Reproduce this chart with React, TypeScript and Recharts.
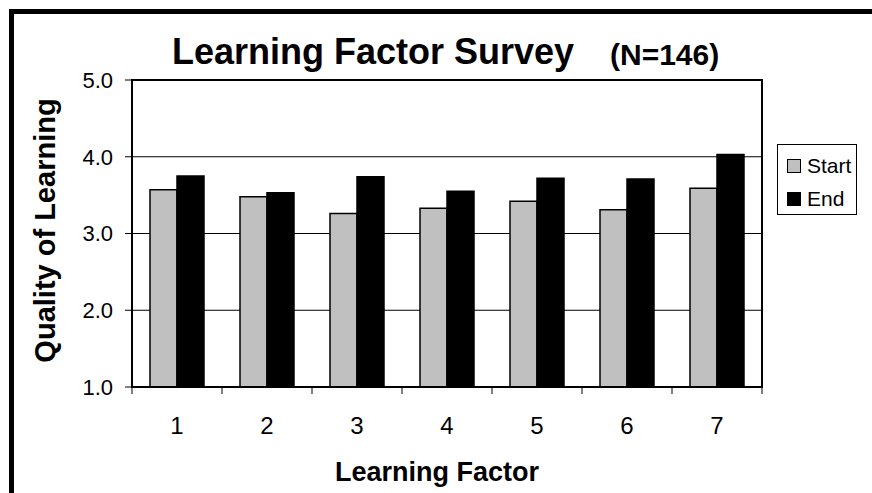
import { BarChart, Bar, XAxis, YAxis, CartesianGrid, Legend, ReferenceArea, Label } from 'recharts';

const categories = ['1', '2', '3', '4', '5', '6', '7'];
const seriesNames = ['Start', 'End'];
const startValues = [3.57, 3.48, 3.26, 3.33, 3.42, 3.31, 3.59];
const endValues = [3.75, 3.53, 3.74, 3.55, 3.72, 3.71, 4.03];
const yTicks = [1, 2, 3, 4, 5];

const data = categories.map((factor, i) => ({
  factor,
  Start: startValues[i],
  End: endValues[i],
}));

const FONT = '"Liberation Sans", Arial, sans-serif';

function XTick(props: any) {
  const { x, y, payload, index, visibleTicksCount } = props;
  const half = payload?.offset ?? 45;
  const last = index === (visibleTicksCount ?? categories.length) - 1;
  return (
    <g>
      <line x1={x - half} x2={x - half} y1={y} y2={y + 7} stroke="#000" strokeWidth={1} />
      {last && <line x1={x + half} x2={x + half} y1={y} y2={y + 7} stroke="#000" strokeWidth={1} />}
      <text x={x} y={y + 47} textAnchor="middle" fontSize={24} fill="#000">
        {payload.value}
      </text>
    </g>
  );
}

function renderLegend(props: any) {
  const payload = [...(props.payload || [])].sort(
    (a: any, b: any) => seriesNames.indexOf(a.value) - seriesNames.indexOf(b.value)
  );
  return (
    <div
      style={{
        border: '1px solid #000',
        background: '#fff',
        width: 80,
        height: 71,
        paddingTop: 4,
        boxSizing: 'border-box',
        fontFamily: FONT,
      }}
    >
      {payload.map((entry: any) => (
        <div key={entry.value} style={{ display: 'flex', alignItems: 'center', height: 33, paddingLeft: 9 }}>
          <span
            style={{
              display: 'inline-block',
              width: 14,
              height: 14,
              boxSizing: 'border-box',
              border: '1.5px solid #000',
              background: entry.color,
              marginRight: 6,
            }}
          />
          <span style={{ fontSize: 21, color: '#000', lineHeight: 1 }}>{entry.value}</span>
        </div>
      ))}
    </div>
  );
}

export default function App() {
  return (
    <div
      style={{
        position: 'absolute',
        left: 0,
        top: 0,
        width: 872,
        height: 493,
        overflow: 'hidden',
        background: '#fff',
        fontFamily: FONT,
      }}
    >
      {/* outer frame, only left + top edges show */}
      <div
        style={{
          position: 'absolute',
          left: 9,
          top: 9,
          right: -10,
          bottom: -10,
          borderLeft: '5px solid #000',
          borderTop: '5px solid #000',
        }}
      />
      <div style={{ position: 'absolute', left: 0, top: 0 }}>
        <BarChart
          width={872}
          height={493}
          data={data}
          margin={{ top: 80, right: 110, bottom: 46, left: 72 }}
          barCategoryGap="20%"
          barGap={0}
        >
          <CartesianGrid vertical={false} stroke="#000" strokeWidth={1} />
          <XAxis
            dataKey="factor"
            height={60}
            axisLine={{ stroke: '#000', strokeWidth: 2 }}
            tickLine={false}
            tickSize={0}
            tickMargin={0}
            tick={<XTick />}
            interval={0}
          >
            <Label
              content={(p: any) => {
                const vb = p.viewBox || { x: 132, width: 630, y: 387 };
                return (
                  <text
                    x={vb.x + vb.width / 2 - 10}
                    y={481}
                    textAnchor="middle"
                    fontSize={27}
                    fontWeight="bold"
                    fill="#000"
                  >
                    Learning Factor
                  </text>
                );
              }}
            />
          </XAxis>
          <YAxis
            width={60}
            domain={[1, 5]}
            ticks={yTicks}
            interval={0}
            tickFormatter={(v: number) => v.toFixed(1)}
            axisLine={{ stroke: '#000', strokeWidth: 2 }}
            tickLine={{ stroke: '#000' }}
            tickSize={7}
            tickMargin={12}
            tick={{ fontSize: 22, fill: '#000' }}
          >
            <Label
              content={(p: any) => {
                const vb = p.viewBox || { y: 80, height: 307 };
                const cy = vb.y + vb.height / 2 - 3;
                return (
                  <text
                    x={0}
                    y={0}
                    transform={`translate(55, ${cy}) rotate(-90)`}
                    textAnchor="middle"
                    fontSize={29}
                    fontWeight="bold"
                    fill="#000"
                  >
                    Quality of Learning
                  </text>
                );
              }}
            />
          </YAxis>
          <ReferenceArea
            x1={categories[0]}
            x2={categories[categories.length - 1]}
            y1={1}
            y2={5}
            fill="none"
            stroke="#000"
            strokeWidth={2}
          />
          <Legend
            layout="vertical"
            align="center"
            verticalAlign="middle"
            wrapperStyle={{ left: 777, top: 144, width: 82, height: 73 }}
            content={renderLegend}
          />
          <Bar dataKey="Start" fill="#c0c0c0" stroke="#000" strokeWidth={1.5} isAnimationActive={false} />
          <Bar dataKey="End" fill="#000000" stroke="#000" strokeWidth={1.5} isAnimationActive={false} />
        </BarChart>
      </div>
      {/* chart title */}
      <div
        style={{
          position: 'absolute',
          left: 172,
          top: 34,
          fontSize: 36,
          fontWeight: 'bold',
          lineHeight: 1,
          whiteSpace: 'nowrap',
          color: '#000',
        }}
      >
        Learning Factor Survey
      </div>
      <div
        style={{
          position: 'absolute',
          left: 610,
          top: 40,
          fontSize: 30,
          fontWeight: 'bold',
          lineHeight: 1,
          whiteSpace: 'nowrap',
          color: '#000',
        }}
      >
        (N=146)
      </div>
    </div>
  );
}
